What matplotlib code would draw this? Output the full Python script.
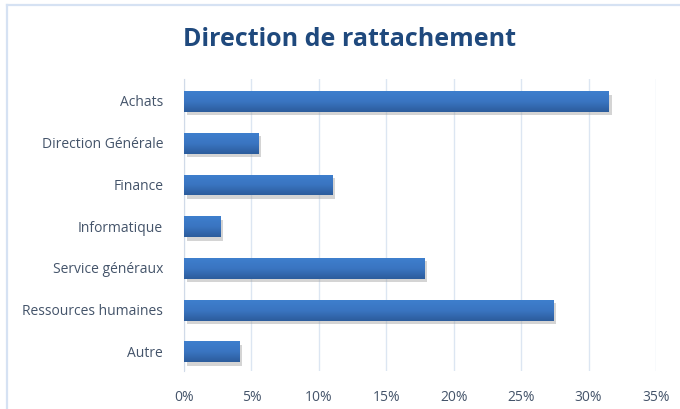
import matplotlib.pyplot as plt
import matplotlib.patheffects as pe
from matplotlib.lines import Line2D
from matplotlib.colors import LinearSegmentedColormap
import numpy as np

categories = ['Achats', 'Direction Générale', 'Finance', 'Informatique',
              'Service généraux', 'Ressources humaines', 'Autre']
values = [31.5, 5.5, 11.0, 2.7, 17.8, 27.4, 4.1]  # %
xticks = [0, 5, 10, 15, 20, 25, 30, 35]

text_col = '#44546A'
grid_col = '#DCE6F2'

plt.rcParams['font.family'] = ['Open Sans', 'DejaVu Sans']

fig = plt.figure(figsize=(6.8, 4.1), dpi=100)
# chart frame: only top and left edges are visible in the crop
fig.lines.append(Line2D([6.5 / 680, 1], [1 - 5.5 / 410, 1 - 5.5 / 410], transform=fig.transFigure,
                        color='#D6E2F3', linewidth=1.6))
fig.lines.append(Line2D([6.5 / 680, 6.5 / 680], [0, 1 - 5.5 / 410], transform=fig.transFigure,
                        color='#D6E2F3', linewidth=1.6))

ax = fig.add_axes([184 / 680, 38 / 410, 472 / 680, 292 / 410])
y = np.arange(len(categories))
bars = ax.barh(y + 0.04, values, height=0.5, color='#3872BD', zorder=3,
               path_effects=[pe.SimplePatchShadow(offset=(2, -2.5), shadow_rgbFace='#a0a0a0', alpha=0.45),
                             pe.Normal()])

# vertical gradient on each bar
cmap = LinearSegmentedColormap.from_list('bar', ['#3E7FCD', '#3A75C1', '#2C5C9C'])
grad = np.linspace(0, 1, 64).reshape(-1, 1)
for b in bars:
    x0, y0, w, h = b.get_x(), b.get_y(), b.get_width(), b.get_height()
    im = ax.imshow(grad, cmap=cmap, aspect='auto', extent=(x0, x0 + w, y0 + h, y0),
                   zorder=4, interpolation='bicubic')
    im.set_clip_path(b)

ax.set_xlim(0, 35)
ax.set_ylim(len(categories) - 0.5, -0.5)
ax.set_yticks(y)
ax.set_yticklabels(categories)
ax.set_xticks(xticks)
ax.set_xticklabels([f'{t}%' for t in xticks])
ax.tick_params(axis='both', length=0, labelsize=10, labelcolor=text_col)
ax.tick_params(axis='x', pad=13)
ax.tick_params(axis='y', pad=15)

ax.grid(axis='x', color=grid_col, linewidth=1, zorder=0)
for s in ['top', 'right', 'bottom']:
    ax.spines[s].set_visible(False)
ax.spines['left'].set_color('#D0DAE8')

fig.text(350 / 680, 1 - 40 / 410, 'Direction de rattachement', ha='center', va='center',
         fontsize=18, fontweight='bold', color='#1F497D')

plt.savefig('out.png', dpi=100)
